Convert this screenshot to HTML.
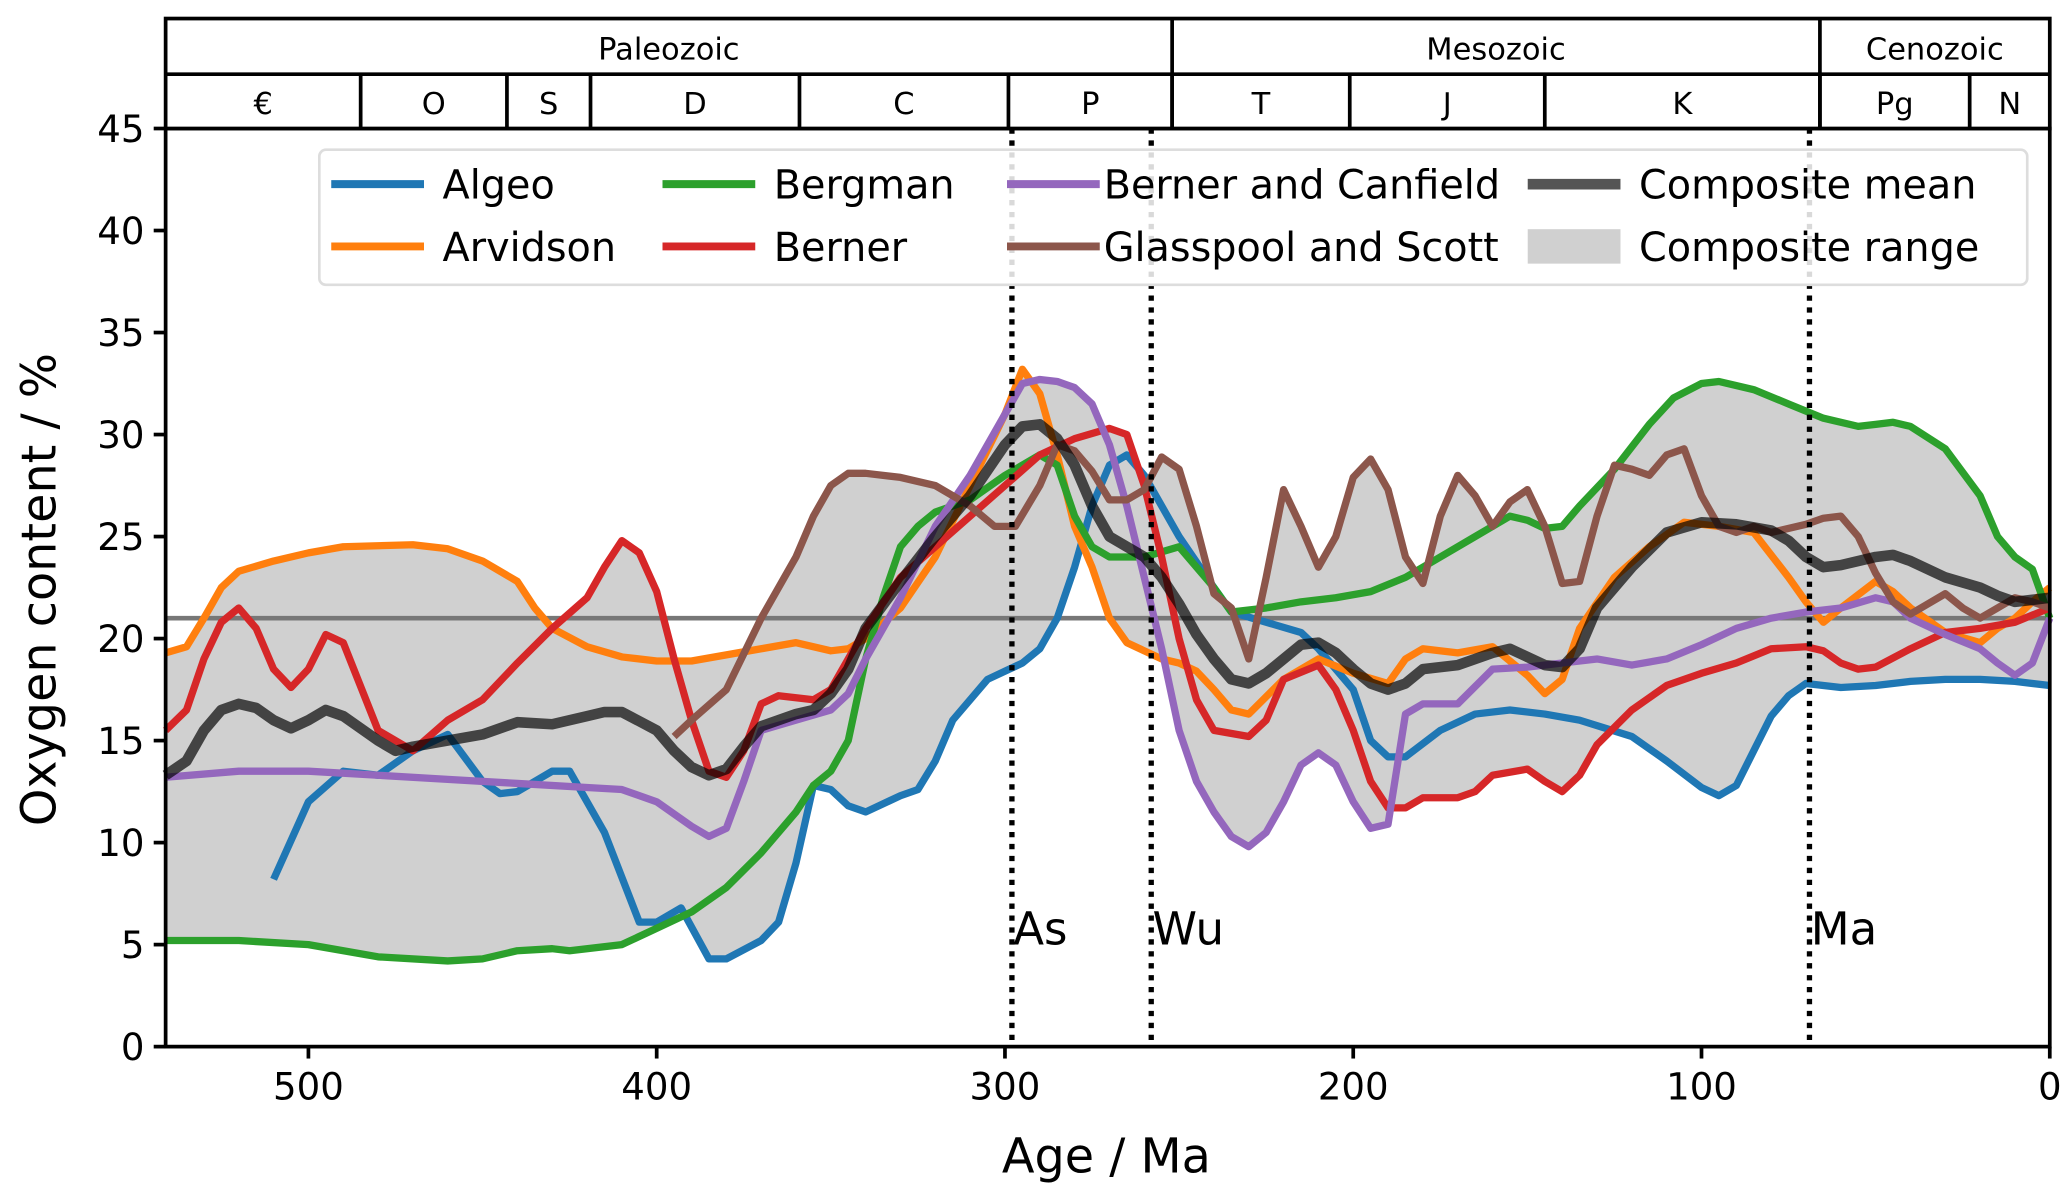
<!DOCTYPE html>
<html><head><meta charset="utf-8"><style>
html,body{margin:0;padding:0;background:#fff;}
svg{display:block;font-family:"DejaVu Sans","Liberation Sans",sans-serif;}
</style></head><body>
<svg id="chart" width="2067" height="1195" viewBox="0 0 1560 902" preserveAspectRatio="none" xmlns="http://www.w3.org/2000/svg">
<g id="range"></g>
<line x1="125" x2="1547" y1="466.6" y2="466.6" stroke="#777" stroke-width="3.5"/>
<g id="series"></g>
<g id="events"></g>
<g id="axes"></g>
<g id="timescale"></g>
<g id="legend"></g>
<text x="835" y="885" font-size="36" text-anchor="middle">Age / Ma</text>
<text transform="translate(42,445) rotate(-90)" font-size="36" text-anchor="middle">Oxygen content / %</text>
</svg>
<script>
const algeoAge=[510,500,490,480,470,460,450,445,440,430,425,415,405,400,393,385,380,370,365,360,355,350,345,340,330,325,320,315,305,300,295,290,285,280,275,270,265,260,255,250,240,235,225,215,210,200,195,190,185,175,165,155,145,135,120,110,100,95,90,85,80,75,70,60,50,40,30,20,10,0];
const algeoVal=[8.2,12,13.5,13.3,14.5,15.3,13,12.4,12.5,13.5,13.5,10.5,6.1,6.1,6.8,4.3,4.3,5.2,6.1,9,12.8,12.6,11.8,11.5,12.3,12.6,14,16,18,18.4,18.8,19.5,21,23.5,26.5,28.5,29,28,26.5,25,22.5,21.3,20.8,20.3,19.5,17.5,15,14.2,14.2,15.5,16.3,16.5,16.3,16,15.2,14,12.7,12.3,12.8,14.5,16.2,17.2,17.8,17.6,17.7,17.9,18,18,17.9,17.7];
const arvAge=[541,535,530,525,520,510,500,490,470,460,450,440,435,430,420,410,400,390,380,370,360,350,345,340,330,320,310,300,295,290,285,280,275,270,265,255,250,245,240,235,230,220,210,200,190,185,180,170,160,150,145,140,135,125,115,105,95,85,75,70,65,60,50,45,40,30,20,15,10,5,0];
const arvVal=[19.3,19.6,21,22.5,23.3,23.8,24.2,24.5,24.6,24.4,23.8,22.8,21.5,20.5,19.6,19.1,18.9,18.9,19.2,19.5,19.8,19.4,19.5,20,21.5,24,27.5,31,33.2,32,29,25.5,23.5,21,19.8,19,18.8,18.4,17.5,16.5,16.3,18,19,18.3,17.8,19,19.5,19.3,19.6,18.2,17.3,18,20.5,23,24.5,25.7,25.5,25.2,23,21.8,20.8,21.5,22.8,22.3,21.5,20.3,19.8,20.5,21,21.8,22.5];
const bergAge=[541,520,500,480,460,450,440,430,425,410,400,390,380,370,360,355,350,345,340,335,330,325,320,310,300,290,285,280,275,270,260,250,240,235,225,215,205,195,185,175,165,155,150,145,140,135,125,115,108,100,95,85,75,65,55,50,45,40,30,20,15,10,5,0];
const bergVal=[5.2,5.2,5,4.4,4.2,4.3,4.7,4.8,4.7,5,5.8,6.6,7.8,9.5,11.5,12.8,13.5,15,19,22,24.5,25.5,26.2,26.8,28,29,28.5,26,24.5,24,24,24.5,22.5,21.3,21.5,21.8,22,22.3,23,24,25,26,25.8,25.4,25.5,26.5,28.3,30.5,31.8,32.5,32.6,32.2,31.5,30.8,30.4,30.5,30.6,30.4,29.3,27,25,24,23.4,21];
const bernAge=[541,535,530,525,520,515,510,505,500,495,490,480,470,460,450,440,430,420,415,410,405,400,395,390,385,380,375,370,365,355,350,345,340,330,320,310,300,290,280,270,265,260,255,250,245,240,230,225,220,210,205,200,195,190,185,180,170,165,160,150,145,140,135,130,120,110,100,90,80,70,65,60,55,50,40,30,20,10,0];
const bernVal=[15.5,16.5,19,20.8,21.5,20.5,18.5,17.6,18.5,20.2,19.8,15.5,14.5,16,17,18.8,20.5,22,23.5,24.8,24.2,22.3,19,16,13.5,13.2,14.5,16.8,17.2,17,17.5,19,20.5,23,24.5,26,27.5,29,29.8,30.3,30,27.5,24,20,17,15.5,15.2,16,18,18.7,17.5,15.5,13,11.7,11.7,12.2,12.2,12.5,13.3,13.6,13,12.5,13.3,14.8,16.5,17.7,18.3,18.8,19.5,19.6,19.4,18.8,18.5,18.6,19.5,20.3,20.5,20.8,21.5];
const bcAge=[541,520,500,480,460,440,420,410,400,390,385,380,375,370,360,350,345,340,330,320,310,300,295,290,285,280,275,270,265,260,255,250,245,240,235,230,225,220,215,210,205,200,195,190,185,180,170,160,150,140,130,120,110,100,90,80,70,60,50,45,40,30,20,15,10,5,0];
const bcVal=[13.2,13.5,13.5,13.3,13.1,12.9,12.7,12.6,12,10.8,10.3,10.7,13,15.5,16,16.5,17.3,19,22,25.5,28,31,32.5,32.7,32.6,32.3,31.5,29.5,26.5,23,19.5,15.5,13,11.5,10.3,9.8,10.5,12,13.8,14.4,13.8,12,10.7,10.9,16.3,16.8,16.8,18.5,18.6,18.8,19,18.7,19,19.7,20.5,21,21.3,21.5,22,21.8,21,20.2,19.5,18.8,18.2,18.8,21];
const gsAge=[395,390,380,370,360,355,350,345,340,330,320,310,303,297,290,285,280,275,270,265,260,255,250,245,240,235,230,225,220,215,210,205,200,195,190,185,180,175,170,165,160,155,150,145,140,135,130,125,120,115,110,105,100,95,90,85,80,70,65,60,55,50,45,40,30,25,20,15,10,5,0];
const gsVal=[15.2,16,17.5,21,24,26,27.5,28.1,28.1,27.9,27.5,26.5,25.5,25.5,27.5,29.5,29.2,28.2,26.8,26.8,27.3,28.9,28.3,25.5,22.2,21.5,19,23,27.3,25.5,23.5,25,27.9,28.8,27.3,24,22.7,26,28,27,25.5,26.7,27.3,25.5,22.7,22.8,26,28.5,28.3,28,29,29.3,27,25.5,25.2,25.5,25.2,25.6,25.9,26,25,23.2,21.8,21.2,22.2,21.5,21,21.5,22,21.8,21.5];
const meanAge=[541,535,530,525,520,515,510,505,500,495,490,480,475,470,460,450,440,430,420,415,410,400,395,390,385,380,375,370,360,355,350,345,340,330,320,310,300,295,290,285,280,275,270,260,255,250,245,240,235,230,225,220,215,210,205,200,195,190,185,180,170,160,155,150,145,140,135,130,120,110,100,90,80,75,70,65,60,50,45,40,30,20,15,10,5,0];
const meanVal=[13.3,14,15.5,16.5,16.8,16.6,16,15.6,16,16.5,16.2,15,14.5,14.7,15,15.3,15.9,15.8,16.2,16.4,16.4,15.5,14.5,13.7,13.3,13.6,14.7,15.7,16.3,16.5,17.3,18.5,20.5,22.8,25,27,29.5,30.4,30.5,29.8,28.5,26.5,25,24,23,21.7,20.2,19,18,17.8,18.3,19,19.7,19.8,19.3,18.5,17.8,17.5,17.8,18.5,18.7,19.3,19.5,19.1,18.7,18.6,19.5,21.5,23.5,25.2,25.7,25.6,25.3,24.8,24,23.5,23.6,24,24.1,23.8,23,22.5,22.1,21.8,21.9,22];
const seriesNames=["Algeo","Arvidson","Bergman","Berner","Berner and Canfield","Glasspool and Scott","Composite mean"];
const yTicks=[0,5,10,15,20,25,30,35,40,45];
const xTicks=[500,400,300,200,100,0];
const eventAges=[298,258,69];
const eventLabels=["As","Wu","Ma"];
const eraNames=["Paleozoic","Mesozoic","Cenozoic"];
const eraBounds=[541,252,66,0];
const periodNames=["€","O","S","D","C","P","T","J","K","Pg","N"];
const periodBounds=[541,485,443,419,359,299,252,201,145,66,23,0];

const NS="http://www.w3.org/2000/svg";
const L=125,R=1547,T=97,B=790;
const X=a=>R-(a/541)*(R-L);
const Y=v=>B-(v/45)*(B-T);
function mk(tag,attrs,parent,text){const e=document.createElementNS(NS,tag);for(const k in attrs)e.setAttribute(k,attrs[k]);if(text!==undefined)e.textContent=text;parent.appendChild(e);return e;}
const series=[
 {age:algeoAge,val:algeoVal,c:"#1f77b4",n:"algeo-line"},
 {age:arvAge,val:arvVal,c:"#ff7f0e",n:"arvidson-line"},
 {age:bergAge,val:bergVal,c:"#2ca02c",n:"bergman-line"},
 {age:bernAge,val:bernVal,c:"#d62728",n:"berner-line"},
 {age:bcAge,val:bcVal,c:"#9467bd",n:"berner-canfield-line"},
 {age:gsAge,val:gsVal,c:"#8c564b",n:"glasspool-scott-line"}];
function interp(s,a){const ag=s.age;if(a>ag[0]||a<ag[ag.length-1])return null;for(let i=0;i<ag.length-1;i++){if(a<=ag[i]&&a>=ag[i+1]){const t=(ag[i]-a)/(ag[i]-ag[i+1]||1);return s.val[i]+t*(s.val[i+1]-s.val[i]);}}return null;}
const up=[],lo=[];
for(let a=541;a>=0;a--){let mx=-1e9,mn=1e9;series.forEach(s=>{const v=interp(s,a);if(v!==null){mx=Math.max(mx,v);mn=Math.min(mn,v);}});up.push([X(a),Y(mx)]);lo.push([X(a),Y(mn)]);}
const rp=up.concat(lo.reverse()).map(p=>p.join(",")).join(" ");
const rg=mk("polygon",{points:rp,fill:"#d0d0d0",stroke:"none"},document.getElementById("range"));


const sg=document.getElementById("series");
series.forEach(s=>{const pts=s.age.map((a,i)=>X(a)+","+Y(s.val[i])).join(" ");const p=mk("polyline",{points:pts,fill:"none",stroke:s.c,"stroke-width":5.5,"stroke-linejoin":"round"},sg);

});
const mp=mk("polyline",{points:meanAge.map((a,i)=>X(a)+","+Y(meanVal[i])).join(" "),fill:"none",stroke:"#000","stroke-opacity":0.68,"stroke-width":8,"stroke-linejoin":"round"},sg);


const eg=document.getElementById("events");
eventAges.forEach((a,i)=>{const l=mk("line",{x1:X(a),x2:X(a),y1:T,y2:B,stroke:"#000","stroke-width":4,"stroke-dasharray":"4,5"},eg);


const t=mk("text",{x:X(a)+1,y:713,"font-size":34},eg,eventLabels[i]);

});
const ax=document.getElementById("axes");
const fr=mk("rect",{x:L,y:T,width:R-L,height:B-T,fill:"none",stroke:"#000","stroke-width":2.8},ax);


yTicks.forEach(v=>{mk("line",{x1:L-9,x2:L,y1:Y(v),y2:Y(v),stroke:"#000","stroke-width":2.8},ax);
const t=mk("text",{x:L-16,y:Y(v)+10,"font-size":28,"text-anchor":"end"},ax,String(v));

});
xTicks.forEach(a=>{mk("line",{x1:X(a),x2:X(a),y1:B,y2:B+9,stroke:"#000","stroke-width":2.8},ax);
const t=mk("text",{x:X(a),y:B+40,"font-size":28,"text-anchor":"middle"},ax,String(a));

});
const ts=document.getElementById("timescale");
mk("rect",{x:L,y:14,width:R-L,height:T-14,fill:"#fff",stroke:"#000","stroke-width":2.8},ts);
mk("line",{x1:L,x2:R,y1:56,y2:56,stroke:"#000","stroke-width":2.8},ts);
eraNames.forEach((n,i)=>{const x0=X(eraBounds[i]),x1=X(eraBounds[i+1]);if(i>0)mk("line",{x1:x0,x2:x0,y1:14,y2:T,stroke:"#000","stroke-width":2.8},ts);
const t=mk("text",{x:(x0+x1)/2,y:45,"font-size":23,"text-anchor":"middle"},ts,n);

});
periodNames.forEach((n,i)=>{const x0=X(periodBounds[i]),x1=X(periodBounds[i+1]);if(i>0)mk("line",{x1:x0,x2:x0,y1:56,y2:T,stroke:"#000","stroke-width":2.8},ts);
const t=mk("text",{x:(x0+x1)/2,y:86,"font-size":23,"text-anchor":"middle"},ts,n);

});
const lg=document.getElementById("legend");
mk("rect",{x:241,y:113,width:1289,height:102,rx:5,fill:"#fff","fill-opacity":0.85,stroke:"#ddd","stroke-width":2},lg);
const legItems=[
 {c:"#1f77b4",x:250,y:139,n:seriesNames[0]},{c:"#ff7f0e",x:250,y:186,n:seriesNames[1]},
 {c:"#2ca02c",x:500,y:139,n:seriesNames[2]},{c:"#d62728",x:500,y:186,n:seriesNames[3]},
 {c:"#9467bd",x:760,y:139,n:seriesNames[4]},{c:"#8c564b",x:760,y:186,n:seriesNames[5]},
 {c:"#555",x:1153,y:139,n:seriesNames[6],w:8},{c:"#d0d0d0",x:1153,y:186,n:"Composite range",rect:true}];
legItems.forEach(it=>{const g=mk("g",{},lg);


if(it.rect)mk("rect",{x:it.x,y:it.y-13,width:70,height:26,fill:it.c},g);
else mk("line",{x1:it.x,x2:it.x+70,y1:it.y,y2:it.y,stroke:it.c,"stroke-width":it.w||6},g);
mk("text",{x:it.x+(it.x===760?73:84),y:it.y+11,"font-size":30},g,it.n);});
</script>
</body></html>
